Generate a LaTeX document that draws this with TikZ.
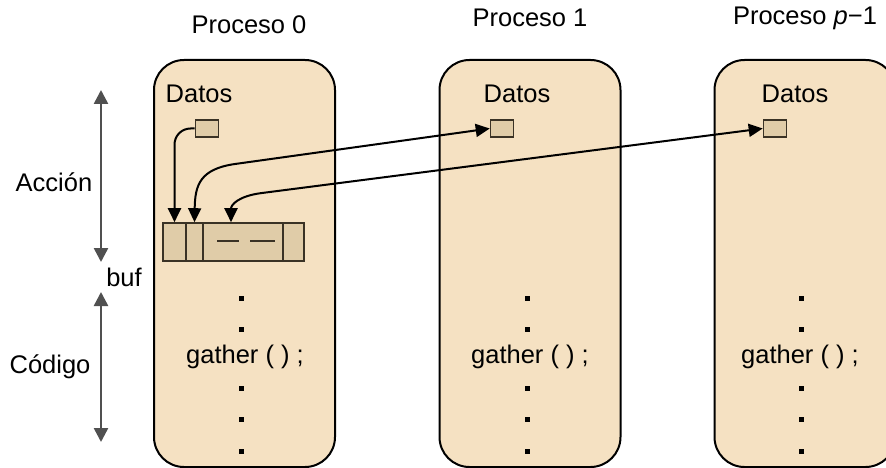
\documentclass[tikz,border=0pt]{standalone}
\usepackage{fontspec}
\setmainfont{Liberation Sans}
\usetikzlibrary{arrows.meta}
\definecolor{panelfill}{HTML}{F5E1C2}
\definecolor{cellfill}{HTML}{E0CCA8}
\definecolor{cellline}{HTML}{3A3225}
\definecolor{axisgray}{HTML}{505050}
\begin{document}
\begin{tikzpicture}[x=1pt,y=-1pt,
  panel/.style={draw=black, line width=2pt, fill=panelfill, rounded corners=30pt,
    minimum width=181pt, minimum height=407pt, inner sep=0pt},
  cell/.style={draw=cellline, line width=1.6pt, fill=cellfill, minimum height=38pt, inner sep=0pt},
  smallbox/.style={draw=cellline, line width=1.6pt, fill=cellfill, minimum width=23pt,
    minimum height=17pt, inner sep=0pt},
  lbl/.style={font=\fontsize{25.5}{30}\selectfont, inner sep=0pt},
  dotm/.style={fill=black, minimum size=5pt, inner sep=0pt},
  arr/.style={line width=2pt, -{Triangle[length=14pt,width=13pt]}},
  darr/.style={line width=2pt, {Triangle[length=14pt,width=13pt]}-{Triangle[length=14pt,width=13pt]}},
  axarr/.style={draw=axisgray, line width=2.5pt,
    {Triangle[length=14pt,width=14pt]}-{Triangle[length=14pt,width=14pt]}}]
\useasboundingbox (0,0) rectangle (886,468);

% process panels
\node[panel] (p0) at (244.5,263.5) {};
\node[panel] (p1) at (530,263.5) {};
\node[panel] (p2) at (805,263.5) {};

% titles
\node[lbl] (t0) at (249,25) {Proceso 0};
\node[lbl] (t1) at (530,18) {Proceso 1};
\node[lbl] (t2) at (805,18) {Proceso \textit{p}−1};

% data labels and data items
\node[lbl] (da0) at (199,94) {Datos};
\node[lbl] (da1) at (517,94) {Datos};
\node[lbl] (da2) at (795,94) {Datos};
\node[smallbox] (d0) at (207,128.5) {};
\node[smallbox] (d1) at (502,128.5) {};
\node[smallbox] (d2) at (775,128.5) {};

% receive buffer
\node[cell, minimum width=23pt] (c1) at (174.5,242) {};
\node[cell, minimum width=17pt] (c2) at (194.5,242) {};
\node[cell, minimum width=80pt] (c3) at (243,242) {};
\node[cell, minimum width=21pt] (c4) at (293.5,242) {};
\draw[cellline, line width=2pt] ([xshift=-26pt,yshift=1pt]c3.center) -- ++(22,0)
  ([xshift=7pt,yshift=1pt]c3.center) -- ++(25,0);

% gather transfers
\draw[arr, rounded corners=16pt] (d0.west) -| (c1.north);
\draw[darr] (d1.west) -- (235,164) .. controls (200,169) and (195,185) .. (c2.north);
\draw[darr] (d2.west) -- (262,193) .. controls (238,196) and (231,205) .. ([xshift=-12pt]c3.north);

% code lines
\foreach \px/\gx/\i in {241/245/0, 527/530/1, 801/800/2}{
  \foreach \dy/\j in {298/a, 329/b, 388/c, 419/d, 451/e}{
    \node[dotm] (dot\i\j) at (\px,\dy) {};
  }
  \node[lbl] (g\i) at (\gx,357) {gather ( ) ;};
}

% left axis
\coordinate (a1) at (101,90);
\coordinate (a2) at (101,262);
\coordinate (a3) at (101,292);
\coordinate (a4) at (101,442);
\draw[axarr] (a1) -- (a2);
\draw[axarr] (a3) -- (a4);
\node[lbl] (accion) at (54,182) {Acción};
\node[lbl] (buf) at (124,277) {buf};
\node[lbl] (codigo) at (50,367) {Código};
\end{tikzpicture}
\end{document}
